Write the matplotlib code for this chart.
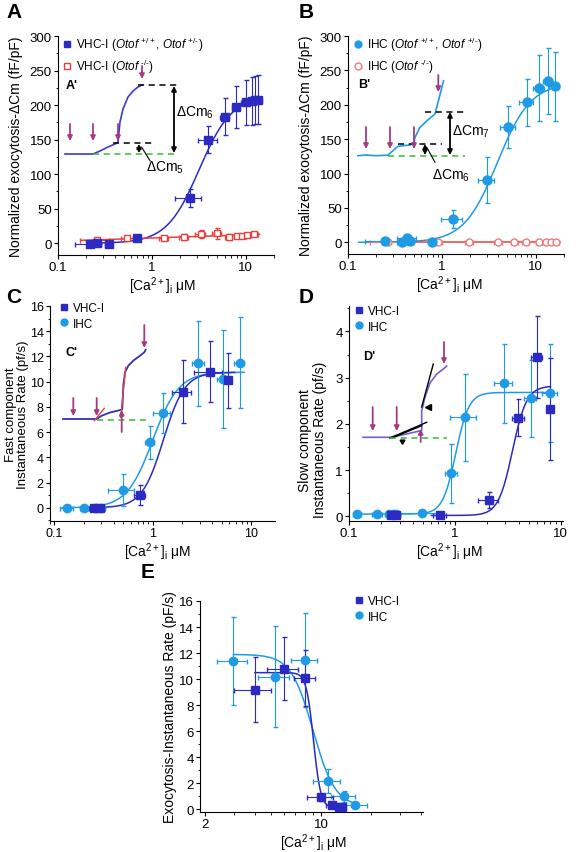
import numpy as np
import matplotlib
matplotlib.use('Agg')
import matplotlib.pyplot as plt
from matplotlib.ticker import MultipleLocator, FixedLocator, NullFormatter

plt.rcParams['font.family'] = ['Liberation Sans', 'DejaVu Sans']
plt.rcParams['mathtext.fontset'] = 'custom'
plt.rcParams['mathtext.rm'] = 'Liberation Sans'
plt.rcParams['mathtext.it'] = 'Liberation Sans:italic'
plt.rcParams['mathtext.bf'] = 'Liberation Sans:bold'

DARK = '#2b2bc4'
LIGHT = '#1f9be6'
RED = '#e8413c'
PINK = '#ee7b7b'
MAG = '#a33a86'
GREEN = '#33c033'

# ---------------- panel A ----------------
a_vhc_x = [0.22, 0.26, 0.35, 0.70, 2.55, 4.0, 6.0, 7.9, 10.0, 11.8, 12.6, 13.4]
a_vhc_y = [-1, 0, -1, 8, 65, 150, 183, 197, 204, 206, 207, 208]
a_vhc_yerr = [2, 2, 2, 4, 13, 20, 27, 30, 33, 35, 35, 35]
a_vhc_xerr = [0.07, 0.03, 0.03, 0.05, 0.8, 0.9, 0.7, 0.8, 1.0, 1.2, 1.4, 1.5]
a_ko_x = [0.26, 0.55, 1.34, 2.19, 3.3, 4.9, 6.6, 8.1, 9.2, 10.4, 12.2]
a_ko_y = [4, 7, 7, 9, 13, 14.5, 9, 10.6, 10.6, 11.6, 13]
a_ko_yerr = [2, 2, 3, 4, 6, 8, 4, 3, 3, 3, 3]
a_ko_xerr = [0.09, 0.08, 0.15, 0.25, 0.4, 0.5, 0.6, 0.6, 0.8, 1.0, 1.4]
a_fit = dict(bottom=0, top=214, k=3.2, n=2.5)

# ---------------- panel B ----------------
b_ihc_x = [0.25, 0.38, 0.43, 0.46, 0.79, 1.31, 3.02, 5.08, 8.0, 10.8, 13.4, 15.9]
b_ihc_y = [1.5, 0, 6, 2, 0, 33.7, 90.5, 167.5, 203.6, 224, 234, 227]
b_ihc_yerr = [2, 2, 3, 2, 2, 13, 33, 31, 34, 48, 48, 50]
b_ihc_xerr = [0.1, 0.05, 0.1, 0.05, 0.05, 0.34, 0.6, 0.9, 1.4, 1.5, 1.5, 2.0]
b_ko_x = [0.27, 0.9, 1.96, 4.0, 5.9, 7.8, 10.8, 12.8, 14.7, 16.3]
b_ko_y = [0.5, 0.3, 0.4, 0.5, 0.4, 0.5, 0.6, 0.5, 0.4, 0.5]
b_ko_yerr = [1, 1, 1, 1, 1, 1, 1, 1, 1, 1]
b_ko_xerr = [0.1, 0.1, 0.2, 0.4, 0.5, 0.6, 0.8, 1.0, 1.2, 1.4]
b_fit = dict(bottom=0, top=232, k=3.9, n=2.45)

# ---------------- panel C ----------------
c_vhc_x = [0.255, 0.293, 0.74, 2.02, 3.85, 5.8]
c_vhc_y = [0, 0, 1.0, 9.2, 10.8, 10.1]
c_vhc_yerr = [0.1, 0.1, 0.8, 2.5, 2.4, 2.15]
c_vhc_xerr = [0.03, 0.03, 0.1, 0.45, 1.2, 0.5]
c_ihc_x = [0.135, 0.2, 0.26, 0.295, 0.5, 0.94, 1.26, 2.9, 5.2, 7.66]
c_ihc_y = [0, 0, 0, 0, 1.4, 5.2, 7.5, 11.45, 10.2, 11.5]
c_ihc_yerr = [0.1, 0.1, 0.1, 0.1, 1.3, 1.3, 1.6, 3.4, 3.9, 3.6]
c_ihc_xerr = [0.02, 0.02, 0.02, 0.02, 0.15, 0.1, 0.25, 0.4, 0.7, 0.9]
c_fit_vhc = dict(bottom=0, top=10.75, k=1.28, n=4.0)
c_fit_ihc = dict(bottom=0, top=10.75, k=1.0, n=3.3)

# ---------------- panel D ----------------
d_vhc_x = [0.25, 0.28, 0.72, 2.1, 3.98, 5.93, 7.9]
d_vhc_y = [0.03, 0.03, 0.02, 0.36, 2.13, 3.44, 2.33]
d_vhc_yerr = [0.02, 0.02, 0.02, 0.17, 0.4, 0.89, 1.1]
d_vhc_xerr = [0.02, 0.02, 0.1, 0.45, 0.5, 0.7, 0.3]
d_ihc_x = [0.12, 0.185, 0.24, 0.26, 0.28, 0.49, 0.92, 1.24, 2.91, 5.2, 7.9]
d_ihc_y = [0.05, 0.05, 0.05, 0.05, 0.05, 0.07, 0.93, 2.14, 2.88, 2.55, 2.66]
d_ihc_yerr = [0.02, 0.02, 0.02, 0.02, 0.02, 0.03, 0.64, 0.95, 0.85, 0.84, 1.06]
d_ihc_xerr = [0.01, 0.02, 0.02, 0.02, 0.02, 0.2, 0.12, 0.35, 0.55, 0.7, 1.3]
d_fit_vhc = dict(bottom=0.02, top=2.82, k=3.5, n=6.5)
d_fit_ihc = dict(bottom=0.05, top=2.68, k=1.02, n=7.0)

# ---------------- panel E ----------------
e_vhc_x = [4.0, 6.0, 8.03, 10.0, 11.7, 12.9, 13.4]
e_vhc_y = [9.2, 10.8, 10.1, 0.92, 0.36, 0.2, 0.15]
e_vhc_yerr = [2.5, 2.4, 2.15, 0.3, 0.1, 0.1, 0.1]
e_vhc_xerr = [1.0, 1.25, 1.2, 1.8, 1.0, 0.8, 0.8]
e_ihc_x = [2.97, 5.3, 8.03, 11.0, 13.7, 15.9]
e_ihc_y = [11.4, 10.2, 11.5, 2.17, 1.0, 0.3]
e_ihc_yerr = [3.4, 3.9, 3.6, 0.9, 0.4, 0.2]
e_ihc_xerr = [0.6, 1.1, 1.4, 2.0, 2.2, 3.0]
e_fit_vhc = dict(bottom=0.1, top=10.5, k=9.0, n=20)
e_fit_ihc = dict(bottom=0.2, top=11.9, k=8.95, n=6.5)

# ---------------- inset traces (figure pixels, y down) ----------------
a_trace_x = [65, 75, 85, 93, 100, 108, 115, 118, 120, 123, 128, 133, 138, 142]
a_trace_y = [155, 155, 155, 155, 152, 148, 145, 143, 123, 110, 98, 92, 88, 86]
b_trace_x = [358, 366, 375, 388, 390, 398, 410, 414, 415, 420, 427, 435, 438, 441, 443.5]
b_trace_y = [156.7, 156, 156.7, 156.2, 154.3, 147.3, 146, 143.3, 138.3, 128.3, 121.7, 115, 103.3, 91.7, 81.7]
c_trace_x = [63, 75, 85, 96.7, 101.7, 110, 121.7, 122.3, 123.3, 125, 128.3, 133.3, 140, 144.3, 145.7]
c_trace_y = [420, 420, 420, 420, 416.7, 413.5, 410.7, 410, 386.7, 373.3, 366.7, 361.7, 356.7, 353.3, 350.7]
d_trace_x = [363, 375, 390, 406.7, 420.7, 421.7, 421.7, 425, 430, 436.7, 443.3, 446.7]
d_trace_y = [438.3, 438.3, 438.3, 435, 431.7, 431, 412, 398, 384, 375, 370, 367]


def hill(x, bottom, top, k, n):
    return bottom + (top - bottom) * x**n / (k**n + x**n)


def hill_down(x, bottom, top, k, n):
    return bottom + (top - bottom) / (1 + (x / k)**n)


def points(ax, x, y, xerr, yerr, color, marker, filled=True, ms=6):
    ax.errorbar(x, y, xerr=xerr, yerr=yerr, fmt=marker, color=color, ms=ms,
                mfc=color if filled else 'white', mec=color, mew=1.0,
                elinewidth=0.8, capsize=1.8, capthick=0.8, zorder=3)


def style(ax, xlim, ylim, ymaj, ymin, xlab_x, ylab, ylab_pad, ylab_y=0.5,
          tsize=9.5, lsize=10, lspace=1.1):
    ax.set_xscale('log')
    ax.set_xlim(*xlim)
    ax.set_ylim(*ylim)
    ax.spines['top'].set_visible(False)
    ax.spines['right'].set_visible(False)
    ax.yaxis.set_major_locator(MultipleLocator(ymaj))
    ax.yaxis.set_minor_locator(MultipleLocator(ymin))
    ax.tick_params(labelsize=tsize, length=3, width=0.8, pad=1.5)
    ax.tick_params(which='minor', length=1.8, width=0.6)
    ax.xaxis.set_major_formatter(plt.FuncFormatter(lambda v, p: '%g' % v))
    ax.set_xlabel(r'[Ca$^{2+}$]$_\mathregular{i}$ μM', fontsize=10, labelpad=1)
    ax.xaxis.label.set_x(xlab_x)
    ax.set_ylabel(ylab, fontsize=lsize, labelpad=ylab_pad, linespacing=lspace)
    ax.yaxis.label.set_y(ylab_y)


W, H = 588, 853
fig = plt.figure(figsize=(W / 100, H / 100), dpi=100)


def add_ax(l, r, t, b):
    return fig.add_axes([l / W, 1 - b / H, (r - l) / W, (b - t) / H])


def legend(ax, handles, labels, lx, ty):
    ax.legend(handles, labels, loc='upper left',
              bbox_to_anchor=(lx / W, 1 - ty / H), bbox_transform=fig.transFigure,
              frameon=False, fontsize=8.5, handlelength=0.7, handletextpad=0.4,
              labelspacing=0.3, borderpad=0, borderaxespad=0)


HY = '\u2010'

# ---- A ----
axA = add_ax(58, 274, 37, 256)
style(axA, (0.1, 20), (-17, 300), 50, 25, 0.486, 'Normalized exocytosis-ΔCm (fF/pF)', 5)
xs = np.logspace(np.log10(0.22), np.log10(14), 200)
axA.plot(xs, hill(xs, **a_fit), color=DARK, lw=1.1, zorder=2)
cf = np.polyfit(np.log10(a_ko_x), a_ko_y, 1)
xs2 = np.logspace(np.log10(0.18), np.log10(14), 50)
axA.plot(xs2, np.polyval(cf, np.log10(xs2)), color=RED, lw=1.1, zorder=2)
points(axA, a_ko_x, a_ko_y, a_ko_xerr, a_ko_yerr, RED, 's', filled=False, ms=5)
points(axA, a_vhc_x, a_vhc_y, a_vhc_xerr, a_vhc_yerr, DARK, 's')
hA1, = axA.plot([], [], 's', color=DARK, ms=4.5)
hA2, = axA.plot([], [], 's', color=RED, mfc='white', ms=4.5)
legend(axA, [hA1, hA2], [r'VHC-I ($\mathit{Otof}$ $^{+/+}$, $\mathit{Otof}$ $^{+/' + HY + '}$)',
                         r'VHC-I ($\mathit{Otof}$ $^{' + HY + '/' + HY + '}$)'], 63, 36)

# ---- B ----
axB = add_ax(348, 564, 37, 255)
style(axB, (0.1, 20), (-17, 300), 50, 25, 0.47, 'Normalized exocytosis-ΔCm (fF/pF)', 5)
xs = np.logspace(np.log10(0.13), np.log10(17), 200)
axB.plot(xs, hill(xs, **b_fit), color=LIGHT, lw=1.1, zorder=2)
cf = np.polyfit(np.log10(b_ko_x), b_ko_y, 1)
xs2 = np.logspace(np.log10(0.17), np.log10(18), 50)
axB.plot(xs2, np.polyval(cf, np.log10(xs2)), color=RED, lw=1.1, zorder=2)
points(axB, b_ko_x, b_ko_y, b_ko_xerr, b_ko_yerr, PINK, 'o', filled=False, ms=5)
points(axB, b_ihc_x, b_ihc_y, b_ihc_xerr, b_ihc_yerr, LIGHT, 'o', ms=6.5)
hB1, = axB.plot([], [], 'o', color=LIGHT, ms=5)
hB2, = axB.plot([], [], 'o', color=PINK, mfc='white', ms=5)
legend(axB, [hB1, hB2], [r'IHC ($\mathit{Otof}$ $^{+/+}$, $\mathit{Otof}$ $^{+/' + HY + '}$)',
                         r'IHC ($\mathit{Otof}$ $^{' + HY + '/' + HY + '}$)'], 354, 36)

# ---- C ----
axC = add_ax(50, 275, 307, 522)
style(axC, (0.09, 17.5), (-1.05, 16), 2, 1, 0.48,
      'Fast component\nInstantaneous Rate (pf/s)', 0.5, tsize=9, lsize=9.5, lspace=1.0)
xs = np.logspace(np.log10(0.12), np.log10(8.5), 200)
axC.plot(xs, hill(xs, **c_fit_ihc), color=LIGHT, lw=1.1, zorder=2)
xs = np.logspace(np.log10(0.2), np.log10(6.8), 200)
axC.plot(xs, hill(xs, **c_fit_vhc), color=DARK, lw=1.1, zorder=2)
points(axC, c_ihc_x, c_ihc_y, c_ihc_xerr, c_ihc_yerr, LIGHT, 'o', ms=6)
points(axC, c_vhc_x, c_vhc_y, c_vhc_xerr, c_vhc_yerr, DARK, 's', ms=5.5)

# ---- D ----
axD = add_ax(349, 563, 307, 522)
style(axD, (0.1, 10.5), (-0.1, 4.55), 1, 0.5, 0.47,
      'Slow component\nInstantaneous Rate (pf/s)', 6, 0.38)
xs = np.logspace(np.log10(0.12), np.log10(8), 200)
axD.plot(xs, hill(xs, **d_fit_ihc), color=LIGHT, lw=1.1, zorder=2)
xs = np.logspace(np.log10(0.6), np.log10(8), 200)
axD.plot(xs, hill(xs, **d_fit_vhc), color=DARK, lw=1.1, zorder=2)
points(axD, d_ihc_x, d_ihc_y, d_ihc_xerr, d_ihc_yerr, LIGHT, 'o', ms=6)
points(axD, d_vhc_x, d_vhc_y, d_vhc_xerr, d_vhc_yerr, DARK, 's', ms=5.5)

# ---- E ----
axE = add_ax(200, 423, 602, 813)
style(axE, (1.87, 41), (-0.2, 16), 2, 1, 0.51, 'Exocytosis-Instantaneous Rate (pF/s)', 1.5)
axE.xaxis.set_major_locator(FixedLocator([2, 10]))
axE.xaxis.set_minor_locator(FixedLocator([3, 4, 5, 6, 7, 8, 9, 20, 30, 40]))
axE.xaxis.set_minor_formatter(NullFormatter())
xs = np.logspace(np.log10(2.97), np.log10(16), 300)
axE.plot(xs, hill_down(xs, **e_fit_ihc), color=LIGHT, lw=1.1, zorder=2)
xs = np.logspace(np.log10(4.0), np.log10(14), 300)
axE.plot(xs, hill_down(xs, **e_fit_vhc), color=DARK, lw=1.1, zorder=2)
points(axE, e_ihc_x, e_ihc_y, e_ihc_xerr, e_ihc_yerr, LIGHT, 'o', ms=6)
points(axE, e_vhc_x, e_vhc_y, e_vhc_xerr, e_vhc_yerr, DARK, 's', ms=5.5)

# small legends C, D, E
for ax, (lx, ty) in [(axC, (60, 303)), (axD, (355, 306)), (axE, (355, 596))]:
    h1, = ax.plot([], [], 's', color=DARK, ms=4.5)
    h2, = ax.plot([], [], 'o', color=LIGHT, ms=5)
    legend(ax, [h1, h2], ['VHC-I', 'IHC'], lx, ty)

# panel letters
for lab, (px, py) in zip('ABCDE', [(14, 12), (306, 12), (14, 298), (306, 298), (148, 572)]):
    fig.text(px / W, 1 - py / H, lab, fontsize=15, fontweight='bold', ha='center', va='center')

# ---------------- inset schematics (overlay in pixel coords) ----------------
ov = fig.add_axes([0, 0, 1, 1])
ov.set_xlim(0, W)
ov.set_ylim(H, 0)
ov.axis('off')


def arrow(x, y0, y1, color=MAG, lw=1.3, style='-|>'):
    ov.annotate('', xy=(x, y1), xytext=(x, y0),
                arrowprops=dict(arrowstyle=style, color=color, lw=lw,
                                mutation_scale=7, shrinkA=0, shrinkB=0))


def dash(x0, x1, y, color='black'):
    ov.plot([x0, x1], [y, y], ls=(0, (4, 3)), color=color, lw=1.1)


# A'
ov.plot(a_trace_x, a_trace_y, color='#3b3bd0', lw=1.2)
for x in [70, 93, 118]:
    arrow(x, 125, 142)
arrow(142, 67, 80)
dash(113, 155, 144)
dash(138, 178, 86)
dash(93, 178, 155, GREEN)
arrow(174, 87, 154, 'black', 1.3, '<|-|>')
arrow(139, 145, 154, 'black', 1.0, '<|-|>')
ov.plot([141.7, 150], [148.3, 161.7], color='black', lw=0.8)
ov.text(176, 113, 'ΔCm$_6$', fontsize=10, ha='left', va='center')
ov.text(146, 168, 'ΔCm$_5$', fontsize=10, ha='left', va='center')
ov.text(66, 86, "A'", fontsize=9, fontweight='bold', ha='left', va='center')

# B'
ov.plot(b_trace_x, b_trace_y, color=LIGHT, lw=1.2)
for x in [366, 390, 414]:
    arrow(x, 128, 150)
arrow(438.3, 76, 93)
dash(398, 442, 145)
dash(425, 465, 112.7)
dash(388, 465, 156.7, GREEN)
arrow(450, 113, 156, 'black', 1.3, '<|-|>')
arrow(425, 145, 156, 'black', 1.0, '<|-|>')
ov.plot([426.7, 435], [148.3, 163.3], color='black', lw=0.8)
ov.text(452, 131.7, 'ΔCm$_7$', fontsize=10, ha='left', va='center')
ov.text(432, 176, 'ΔCm$_6$', fontsize=10, ha='left', va='center')
ov.text(358, 85, "B'", fontsize=9, fontweight='bold', ha='left', va='center')

# C'
ov.plot(c_trace_x, c_trace_y, color='#3030b8', lw=1.3)
ov.plot([94.3, 104.3], [421.7, 409.3], color=RED, lw=1.0)
ov.plot([120.7, 125.7], [418.3, 368.3], color=RED, lw=1.0)
for x in [73.3, 96.7]:
    arrow(x, 399, 417)
arrow(144.3, 326, 349)
arrow(121.7, 433, 411)
dash(96.7, 147, 420.7, GREEN)
ov.text(66, 353, "C'", fontsize=9, fontweight='bold', ha='left', va='center')

# D'
ov.plot(d_trace_x, d_trace_y, color='#7462cc', lw=1.2)
ov.plot([421.7, 433.3], [408, 365], color='black', lw=1.0)
ov.plot([390, 426.7], [439, 423.3], color='black', lw=1.0)
ov.plot([392, 421.7], [439, 426.7], color='black', lw=1.0)
ov.plot([428.3], [408.3], marker='<', color='black', ms=4)
ov.plot([401.7], [441.7], marker=(3, 0, 60), color='black', ms=4)
for x in [372.7, 396.7]:
    arrow(x, 408, 432)
arrow(444, 343, 365)
arrow(420.7, 443, 430)
dash(390, 447, 439, GREEN)
ov.text(363, 357, "D'", fontsize=9, fontweight='bold', ha='left', va='center')

fig.savefig('out.png', dpi=100)
